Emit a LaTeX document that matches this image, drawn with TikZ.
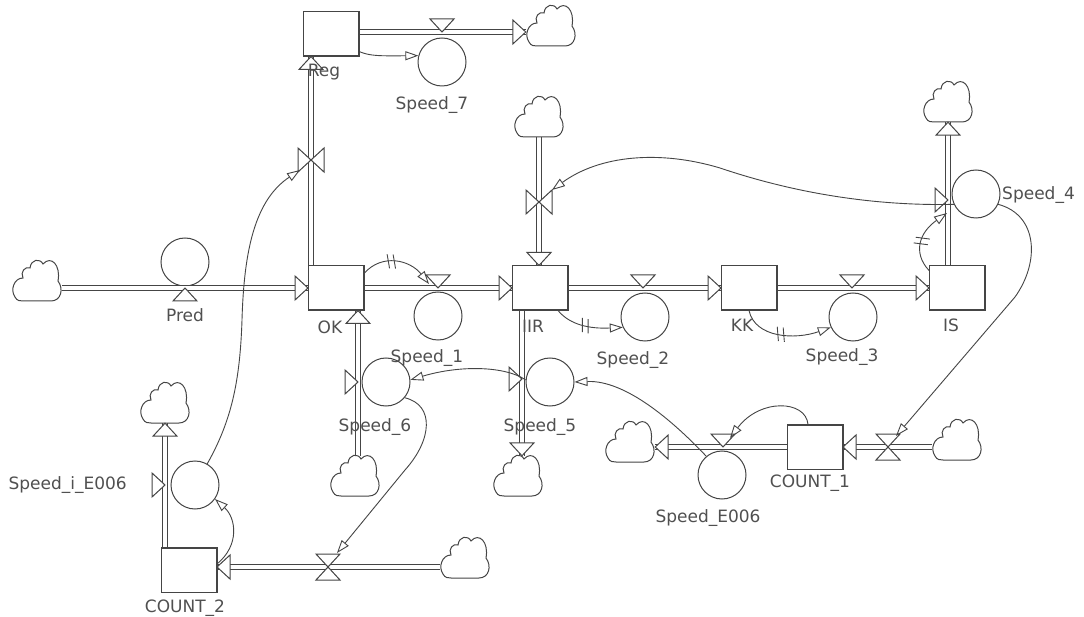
\documentclass[tikz,border=0pt]{standalone}
\usepackage{fontspec}
\newfontfamily\lblfont{DejaVu Sans}
\usetikzlibrary{arrows.meta,decorations.markings,calc}
\definecolor{ink}{HTML}{454545}
\definecolor{txt}{HTML}{505050}
\tikzset{
  ln/.style={draw=ink, line width=1pt},
  stock/.style={ln, rectangle, minimum width=55pt, minimum height=44pt, inner sep=0pt},
  aux/.style={ln, circle, minimum size=48pt, inner sep=0pt},
  flowpipe/.style={draw=ink, line width=5.4pt, postaction={draw=white, line width=3.2pt}},
  hd/.style={ln, fill=white, line join=miter},
  link/.style={draw=ink, line width=0.9pt, -{Triangle[open, length=13pt, width=9pt]}},
  lbl/.style={text=txt, font=\lblfont\fontsize{17}{19}\selectfont, inner sep=0pt},
  delay/.style={postaction={decorate}, decoration={markings, mark=at position #1 with {\draw[ink, line width=0.9pt, -] (-4,-7) -- (-1,7); \draw[ink, line width=0.9pt, -] (2,-7) -- (5,7);}}},
  cl/.style={inner sep=0pt, minimum width=50pt, minimum height=40pt},
  cloudpic/.pic={\draw[ln, fill=white] (-14,20) -- (14,20) .. controls (24,20) and (27,8) .. (21,0)
    .. controls (24,-16) and (14,-26) .. (6,-17)
    .. controls (3,-23) and (-6,-22) .. (-7,-13)
    .. controls (-12,-15) and (-17,-9) .. (-14,-3)
    .. controls (-23,-3) and (-27,9) .. (-22,16)
    .. controls (-20,20) and (-17,20) .. (-14,20) -- cycle;},
}
\newcommand\flowR[1]{\draw[hd] (#1) -- ++(-13,-12) -- ++(0,24) -- cycle;}
\newcommand\flowL[1]{\draw[hd] (#1) -- ++(13,-12) -- ++(0,24) -- cycle;}
\newcommand\flowU[1]{\draw[hd] (#1) -- ++(-12,13) -- ++(24,0) -- cycle;}
\newcommand\flowD[1]{\draw[hd] (#1) -- ++(-12,-13) -- ++(24,0) -- cycle;}
\begin{document}
\begin{tikzpicture}[x=1pt, y=-1pt]
\useasboundingbox (0,0) rectangle (1084,617);
\fill[white] (0,0) rectangle (1084,617);
% stocks
\node[stock] (Reg) at (331,34) {};
\node[stock] (OK) at (336,288) {};
\node[stock] (IIR) at (540,288) {};
\node[stock] (KK) at (749,288) {};
\node[stock] (IS) at (957,288) {};
\node[stock] (C1) at (815,447) {};
\node[stock] (C2) at (189,570) {};
% auxiliaries / rates
\node[aux] (Pred) at (185,262) {};
\node[aux] (S7) at (442,62) {};
\node[aux] (S1) at (438,316) {};
\node[aux] (S2) at (645,317) {};
\node[aux] (S3) at (853,317) {};
\node[aux] (S4) at (976,194) {};
\node[aux] (S6) at (386,382) {};
\node[aux] (S5) at (550,382) {};
\node[aux] (SE) at (722,475) {};
\node[aux] (Si) at (195,485) {};
% cloud anchors
\node[cl] (clPred) at (37,281) {};
\node[cl] (clReg) at (551,26) {};
\node[cl] (clIIR) at (539,117) {};
\node[cl] (clS4) at (948,102) {};
\node[cl] (clS6) at (355,476) {};
\node[cl] (clS5) at (518,476) {};
\node[cl] (clC1L) at (630,442) {};
\node[cl] (clC1R) at (957,440) {};
\node[cl] (clC2) at (465,558) {};
\node[cl] (clSi) at (165,403) {};
% valves
\coordinate (vPred) at (185,288);
\coordinate (vReg) at (311,160);
\coordinate (vS7) at (442,32);
\coordinate (vS1) at (438,288);
\coordinate (vS2) at (643,288);
\coordinate (vS3) at (852,288);
\coordinate (vS4) at (948,200);
\coordinate (vIIR) at (539,202);
\coordinate (vS6) at (358,382);
\coordinate (vS5) at (522,379);
\coordinate (vSE) at (723,447);
\coordinate (vC1) at (888,447);
\coordinate (vC2) at (328,567);
\coordinate (vSi) at (165,485);
% pipes
\draw[flowpipe] (clPred.east |- vPred) -- (OK.west |- vPred);
\draw[flowpipe] (OK.east) -- (IIR.west);
\draw[flowpipe] (IIR.east) -- (KK.west);
\draw[flowpipe] (KK.east) -- (IS.west);
\draw[flowpipe] (vS4 |- IS.north) -- (vS4 |- clS4.south);
\draw[flowpipe] (vIIR |- clIIR.south) -- (vIIR |- IIR.north);
\draw[flowpipe] (vReg |- OK.north) -- (vReg |- Reg.south);
\draw[flowpipe] (Reg.east |- vS7) -- (clReg.west |- vS7);
\draw[flowpipe] (vS6 |- clS6.north) -- (vS6 |- OK.south);
\draw[flowpipe] (vS5 |- IIR.south) -- (vS5 |- clS5.north);
\draw[flowpipe] (C1.west |- vSE) -- (clC1L.east |- vSE);
\draw[flowpipe] (clC1R.west |- vC1) -- (C1.east |- vC1);
\draw[flowpipe] (vSi |- C2.north) -- (vSi |- clSi.south);
\draw[flowpipe] (clC2.west |- vC2) -- (C2.east |- vC2);
% clouds
\foreach \c in {clPred,clReg,clIIR,clS4,clS6,clS5,clC1L,clC1R,clC2,clSi} {\pic at (\c) {cloudpic};}
% redraw stocks over pipe ends
\foreach \s in {Reg,OK,IIR,KK,IS,C1,C2} {\draw[ln] (\s.north west) rectangle (\s.south east);}
% pipe arrowheads
\flowR{OK.west}
\flowR{IIR.west}
\flowR{KK.west}
\flowR{IS.west}
\flowU{vS4 |- clS4.south}
\flowD{vIIR |- IIR.north}
\flowU{vReg |- Reg.south}
\flowR{clReg.west |- vS7}
\flowU{vS6 |- OK.south}
\flowD{vS5 |- clS5.north}
\flowL{clC1L.east |- vSE}
\flowL{C1.east |- vC1}
\flowU{vSi |- clSi.south}
\flowL{C2.east |- vC2}
% valves
\flowU{vPred}
\flowD{vS7}
\flowD{vS1}
\flowD{vS2}
\flowD{vS3}
\flowR{vS4}
\flowR{vIIR}\flowL{vIIR}
\flowR{vReg}\flowL{vReg}
\flowR{vS6}
\flowR{vS5}
\flowR{vSi}
\flowD{vSE}
\flowD{vC1}\flowU{vC1}
\flowD{vC2}\flowU{vC2}
% information links
\draw[link] ($(Reg.south east)+(0,-5)$) .. controls (370,56) and (378,56) .. (S7.165);
\draw[link, delay=0.4] ($(OK.north east)+(0,8)$) .. controls (382,253) and (410,260) .. ($(vS1)+(-9,-4)$);
\draw[link, delay=0.45] ($(IIR.south east)+(-10,0)$) .. controls (570,325) and (590,329) .. (S2.205);
\draw[link, delay=0.45] (KK.south) .. controls (755,338) and (795,340) .. (S3.205);
\draw[link, delay=0.45] ($(IS.north west)+(0,5)$) .. controls (912,252) and (920,232) .. ($(vS4)+(-1,13)$);
\draw[link] (S4.205) .. controls (880,206) and (800,195) .. (720,168) .. controls (660,150) and (600,155) .. ($(vIIR)+(13,-12)$);
\draw[link] (S4.-25) .. controls (1038,215) and (1040,262) .. (1015,297) -- ($(vC1)+(8,-11)$);
\draw[link] (SE.130) .. controls (672,420) and (625,380) .. (S5.0);
\draw[link] ($(C1.north)+(-7,0)$) .. controls (806,400) and (760,398) .. ($(vSE)+(7,-9)$);
\draw[link] (S5.175) .. controls (505,366) and (460,365) .. (S6.5);
\draw[link] (S6.-40) .. controls (435,405) and (432,440) .. (405,470) -- ($(vC2)+(9,-14)$);
\draw[link] ($(C2.east)+(0,-6)$) .. controls (240,545) and (236,518) .. (Si.-35);
\draw[link] (Si.60) .. controls (232,420) and (240,380) .. (242,320) .. controls (244,250) and (255,200) .. ($(vReg)+(-11,10)$);
% labels
\node[lbl] (tPred) at (185,315) {Pred};
\node[lbl] (tReg) at (324,72) {Reg};
\node[lbl] (tS7) at (432,105) {Speed\_7};
\node[lbl] (tOK) at (330,327) {OK};
\node[lbl] (tS1) at (427,358) {Speed\_1};
\node[lbl] (tIIR) at (533,326) {IIR};
\node[lbl] (tS2) at (633,360) {Speed\_2};
\node[lbl] (tKK) at (742,325) {KK};
\node[lbl] (tS3) at (842,357) {Speed\_3};
\node[lbl] (tIS) at (951,325) {IS};
\node[lbl, anchor=west] (tS4) at (1002,195) {Speed\_4};
\node[lbl] (tS6) at (375,427) {Speed\_6};
\node[lbl] (tS5) at (540,427) {Speed\_5};
\node[lbl] (tSE) at (708,518) {Speed\_E006};
\node[lbl] (tC1) at (810,483) {COUNT\_1};
\node[lbl] (tC2) at (185,608) {COUNT\_2};
\node[lbl, anchor=east] (tSi) at (127,485) {Speed\_i\_E006};
\end{tikzpicture}
\end{document}
